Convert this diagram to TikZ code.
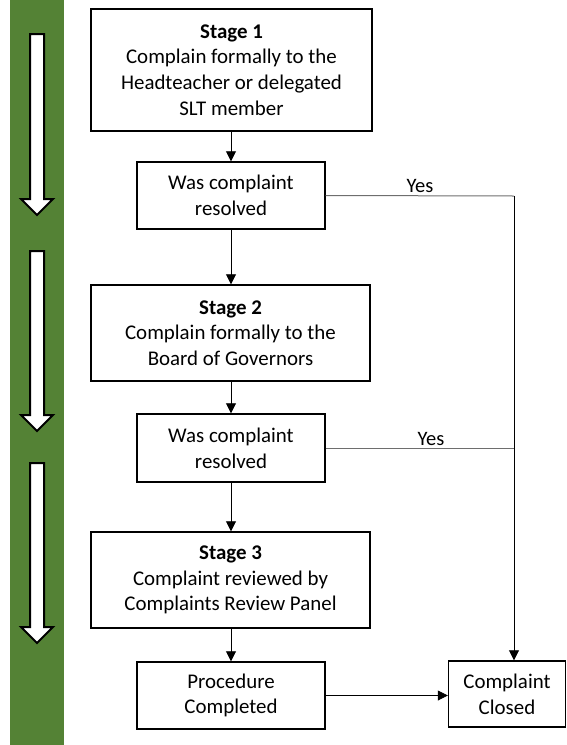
\documentclass[tikz,border=0pt]{standalone}
\usepackage{fontspec}
\setmainfont{Carlito}
\usetikzlibrary{arrows.meta}
\definecolor{bargreen}{RGB}{84,130,53}
\definecolor{linegray}{RGB}{110,110,110}
\tikzset{
  box/.style={draw=black, line width=1.4pt, fill=white, align=center, inner sep=0pt,
    font=\fontsize{20.9}{25.7}\selectfont},
  flow/.style={draw=black, line width=0.8pt, -{Triangle[length=10pt,width=10pt]}},
  yesline/.style={draw=linegray, line width=1pt},
  yeslabel/.style={font=\fontsize{20.5}{24}\selectfont, anchor=base, inner sep=0pt},
  blockarrow/.style={draw=black, line width=2pt, fill=white, line join=miter},
}
\newcommand{\blockarr}[3]{% x, top, tip
  \draw[blockarrow] (#1-7,#2) -- (#1+7,#2) -- (#1+7,#3-16) -- (#1+16,#3-16) -- (#1,#3) -- (#1-16,#3-16) -- (#1-7,#3-16) -- cycle;}
\begin{document}
\begin{tikzpicture}[x=1pt,y=-1pt]
\useasboundingbox (0,0) rectangle (567,745);
\fill[bargreen] (10,0) rectangle (64,745);
\blockarr{37}{34}{215}
\blockarr{37}{251}{431}
\blockarr{37}{463}{643}

\node[box, minimum width=281pt, minimum height=122pt] (s1) at (231.5,70)
  {\textbf{Stage 1}\\Complain formally to the\\Headteacher or delegated\\SLT member};
\node[box, minimum width=188pt, minimum height=67pt] (r1) at (231,195.5)
  {Was complaint\\resolved};
\node[box, minimum width=279pt, minimum height=96pt] (s2) at (230.5,333)
  {\textbf{Stage 2}\\Complain formally to the\\Board of Governors};
\node[box, minimum width=188pt, minimum height=68pt] (r2) at (231,448)
  {Was complaint\\resolved};
\node[box, minimum width=279pt, minimum height=96pt] (s3) at (230.5,580)
  {\textbf{Stage 3}\\Complaint reviewed by\\Complaints Review Panel};
\node[box, minimum width=188pt, minimum height=67pt] (pc) at (231,695.5)
  {Procedure\\Completed};
\node[box, minimum width=117pt, minimum height=66pt] (cc) at (507,694)
  {Complaint\\Closed};

\coordinate (c1) at (514,196);
\coordinate (c2) at (514,448);

\draw[flow] (s1.south -| r1.north) -- (r1.north);
\draw[flow] (r1.south) -- (r1.south |- s2.north);
\draw[flow] (s2.south -| r2.north) -- (r2.north);
\draw[flow] (r2.south) -- (r2.south |- s3.north);
\draw[flow] (s3.south -| pc.north) -- (pc.north);
\draw[flow] (pc.east) -- (pc.east -| cc.west);

\draw[yesline] (r1.east) -- (c1);
\draw[yesline] (r2.east) -- (c2);
\draw[flow] (c1) -- (c1 |- cc.north);

\node[yeslabel] (y1) at (420,192) {Yes};
\node[yeslabel] (y2) at (431,445) {Yes};
\end{tikzpicture}
\end{document}
